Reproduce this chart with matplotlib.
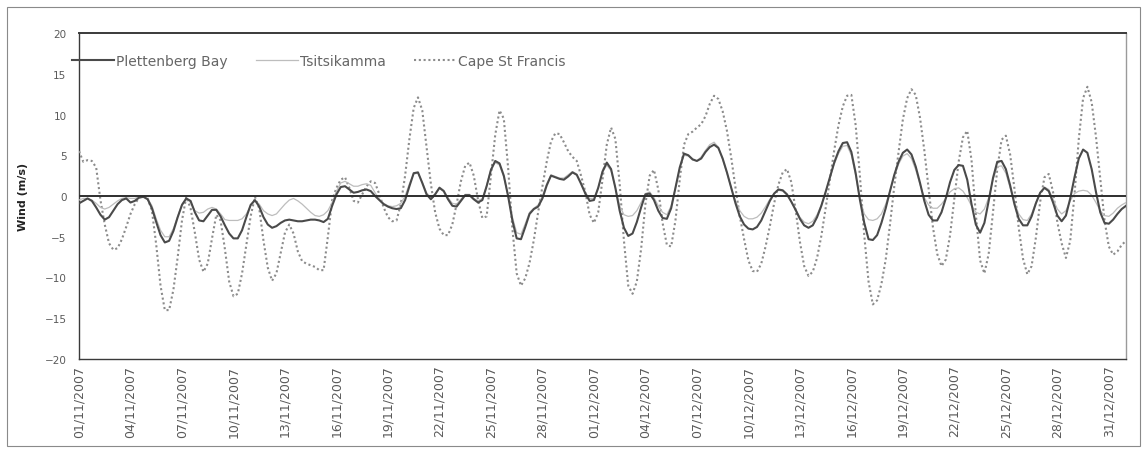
import numpy as np
import matplotlib
matplotlib.use("Agg")
import matplotlib.pyplot as plt
import matplotlib.dates as mdates
from matplotlib.patches import Rectangle

# Six-hourly wind component (m/s), 01/11/2007 00:00 to 01/01/2008 00:00
start = np.datetime64("2007-11-01T00:00")
step_hours = 6

plettenberg_bay = [
    -0.9, -0.6, -0.3, -0.6, -1.4, -2.3, -2.9, -2.6, -1.8, -1.0, -0.5, -0.3,
    -0.8, -0.6, -0.2, -0.1, -0.4, -1.5, -3.2, -4.8, -5.7, -5.5, -4.3, -2.6,
    -1.1, -0.3, -0.6, -2.0, -3.0, -3.1, -2.4, -1.7, -1.7, -2.5, -3.6, -4.6,
    -5.2, -5.2, -4.2, -2.6, -1.1, -0.5, -1.3, -2.6, -3.5, -3.9, -3.7, -3.3,
    -3.0, -2.9, -3.0, -3.1, -3.1, -3.0, -2.9, -2.9, -3.0, -3.2, -2.8, -1.2,
    0.2, 1.1, 1.2, 0.8, 0.4, 0.5, 0.7, 0.8, 0.6, 0.0, -0.5, -1.0,
    -1.3, -1.5, -1.6, -1.5, -0.5, 1.2, 2.8, 2.9, 1.6, 0.2, -0.4, 0.2,
    1.0, 0.6, -0.4, -1.2, -1.3, -0.6, 0.1, 0.1, -0.4, -0.8, -0.5, 1.2,
    3.2, 4.3, 4.0, 2.5, 0.0, -3.0, -5.2, -5.3, -3.8, -2.2, -1.6, -1.3,
    -0.3, 1.3, 2.5, 2.3, 2.1, 2.0, 2.4, 2.9, 2.6, 1.5, 0.3, -0.6,
    -0.5, 1.0, 3.0, 4.1, 3.3, 1.0, -1.8, -3.9, -4.9, -4.6, -3.2, -1.4,
    0.2, 0.3, -0.5, -1.8, -2.7, -2.8, -1.5, 1.0, 3.5, 5.2, 5.0, 4.5,
    4.3, 4.6, 5.4, 6.0, 6.3, 5.9, 4.6, 2.9, 1.0, -0.9, -2.5, -3.5,
    -4.0, -4.1, -3.8, -3.0, -1.8, -0.6, 0.3, 0.8, 0.7, 0.2, -0.7, -1.7,
    -2.8, -3.6, -3.9, -3.6, -2.6, -1.2, 0.5, 2.3, 4.1, 5.5, 6.5, 6.6,
    5.4, 2.8, -0.5, -3.3, -5.3, -5.4, -4.8, -3.3, -1.5, 0.6, 2.6, 4.2,
    5.3, 5.7, 5.1, 3.6, 1.6, -0.6, -2.3, -3.0, -3.0, -2.0, -0.3, 1.7,
    3.2, 3.8, 3.7, 2.0, -1.0, -3.5, -4.5, -3.3, -0.6, 2.2, 4.2, 4.3,
    3.3, 1.3, -1.0, -2.8, -3.6, -3.6, -2.5, -0.9, 0.4, 1.0, 0.6, -0.8,
    -2.4, -3.1, -2.4, -0.3, 2.3, 4.6, 5.7, 5.3, 3.3, 0.5, -2.0, -3.3,
    -3.4, -2.9, -2.2, -1.6, -1.2,
]

tsitsikamma = [
    -0.5, -0.3, -0.3, -0.5, -0.9, -1.4, -1.6, -1.4, -1.0, -0.6, -0.3, -0.2,
    -0.3, -0.3, -0.1, -0.1, -0.3, -1.2, -2.8, -4.2, -5.0, -5.0, -4.0, -2.5,
    -1.0, -0.3, -0.8, -1.8, -2.1, -2.0, -1.6, -1.4, -1.6, -2.2, -2.9, -3.0,
    -3.0, -3.0, -2.8, -2.2, -1.2, -0.6, -1.0, -1.8, -2.2, -2.4, -2.2, -1.6,
    -1.0, -0.5, -0.3, -0.6, -1.0, -1.5, -2.0, -2.4, -2.5, -2.3, -1.8, -0.8,
    0.6, 1.6, 1.8, 1.5, 1.2, 1.2, 1.4, 1.5, 1.3, 0.4, -0.4, -0.9,
    -1.2, -1.3, -1.2, -0.9, 0.0, 1.5, 2.7, 2.8, 1.7, 0.4, -0.2, 0.3,
    1.1, 0.7, -0.2, -0.9, -1.0, -0.4, 0.2, 0.2, -0.3, -0.6, -0.3, 1.3,
    3.3, 4.1, 3.8, 2.3, 0.0, -2.6, -4.5, -4.7, -3.4, -2.0, -1.5, -1.1,
    0.0, 1.5, 2.6, 2.4, 2.2, 2.2, 2.6, 3.0, 2.7, 1.6, 0.4, -0.3,
    -0.3, 1.0, 2.9, 3.8, 3.1, 1.0, -1.2, -2.3, -2.5, -2.4, -1.8, -0.8,
    0.3, 0.5, -0.2, -1.2, -2.0, -2.3, -1.2, 1.0, 3.4, 5.0, 4.9, 4.4,
    4.3, 4.8, 5.6, 6.3, 6.6, 6.0, 4.5, 2.8, 1.0, -0.6, -1.8, -2.5,
    -2.8, -2.8, -2.6, -2.1, -1.3, -0.4, 0.3, 0.7, 0.6, 0.1, -0.7, -1.6,
    -2.6, -3.2, -3.4, -3.1, -2.3, -1.1, 0.5, 2.2, 3.9, 5.2, 6.1, 6.2,
    5.0, 2.5, -0.4, -2.2, -2.9, -3.0, -2.8, -2.2, -1.0, 0.6, 2.4, 3.9,
    4.9, 5.2, 4.6, 3.2, 1.4, -0.2, -1.1, -1.5, -1.5, -1.0, -0.3, 0.5,
    0.9, 1.0, 0.6, -0.2, -1.2, -2.0, -2.2, -1.6, -0.2, 2.0, 3.6, 3.7,
    2.8, 1.0, -0.8, -2.2, -2.9, -3.0, -2.2, -0.8, 0.4, 1.1, 0.8, -0.4,
    -1.6, -2.2, -1.8, -0.6, 0.3, 0.6, 0.7, 0.6, 0.1, -0.8, -1.8, -2.4,
    -2.5, -2.1, -1.5, -1.1, -0.8,
]

cape_st_francis = [
    5.5, 4.2, 4.4, 4.3, 3.5, -0.5, -3.5, -5.8, -6.6, -6.4, -5.3, -3.8,
    -2.2, -1.0, -0.2, 0.0, -0.3, -1.8, -6.0, -11.0, -14.0, -14.0, -11.5, -7.5,
    -3.0, -0.1, -1.5, -4.5, -7.8, -9.3, -8.3, -5.2, -2.3, -3.0, -6.5, -10.5,
    -12.3, -12.0, -9.5, -6.0, -2.5, -0.1, -1.5, -5.5, -8.8, -10.4, -9.5, -7.0,
    -4.5, -3.5, -4.6, -6.8, -8.0, -8.3, -8.5, -8.7, -9.1, -9.1, -5.0, -0.5,
    1.0, 2.0, 2.3, 1.0, -0.6, -0.8, 0.2, 1.2, 1.8, 1.6, 0.2, -1.4,
    -2.6, -3.1, -3.0, -1.0, 2.5, 7.0, 10.8, 12.1, 10.5, 6.0, 1.5, -2.0,
    -4.0, -4.8, -4.8, -3.5, -1.0, 1.8, 3.7, 4.1, 2.5, -0.5, -2.7, -2.5,
    2.5, 7.5, 10.5, 9.5, 3.5, -4.0, -9.5, -11.0, -10.1, -8.2, -5.4, -2.0,
    1.2, 4.2, 6.7, 7.7, 7.6, 6.6, 5.5, 4.8, 4.3, 2.5, 0.5, -2.3,
    -3.3, -2.0, 2.0, 6.3, 8.4, 7.0, 1.5, -5.5, -11.0, -12.0, -10.5, -6.5,
    -1.0, 2.5, 3.2, 0.8, -3.3, -6.0, -6.2, -3.0, 2.0, 6.3, 7.6, 7.9,
    8.4, 8.8, 9.8, 11.3, 12.3, 11.9, 10.4, 8.0, 4.7, 1.0, -2.5, -5.3,
    -7.9, -9.2, -9.3, -8.3, -6.2, -3.7, -0.9, 1.4, 2.9, 3.3, 1.7, -1.7,
    -5.6, -8.6, -9.8, -9.3, -7.6, -4.9, -1.5, 2.0, 5.6, 8.7, 11.0, 12.3,
    12.4, 8.7, 2.4, -4.8, -10.5, -13.3, -12.8, -10.8, -7.8, -3.5, 1.2, 5.4,
    9.4, 12.0, 13.1, 12.4, 9.6, 5.6, 0.9, -3.8, -7.1, -8.6, -7.8, -4.8,
    -0.3, 4.2, 7.2, 8.0, 4.4, -2.2, -7.9, -9.5, -7.1, -2.0, 3.3, 6.9,
    7.4, 5.1, 0.9, -3.9, -7.7, -9.6, -8.6, -5.1, -0.7, 2.3, 2.7, 0.5,
    -3.2, -5.8, -7.6, -5.5, 0.2, 7.0, 12.0, 13.4, 11.5, 7.3, 2.1, -3.0,
    -6.2, -7.2, -6.8, -6.0, -5.5,
]

series_names = ["Plettenberg Bay", "Tsitsikamma", "Cape St Francis"]
y_ticks = [-20, -15, -10, -5, 0, 5, 10, 15, 20]
tick_start = np.datetime64("2007-11-01")
tick_end = np.datetime64("2007-12-31")
tick_every_days = 3

times = start + np.arange(len(plettenberg_bay)) * np.timedelta64(step_hours, "h")
times = times.astype("datetime64[m]").astype(object)

W, H = 1144, 452
fig = plt.figure(figsize=(W / 100, H / 100), dpi=100)
ax = fig.add_axes([79 / W, 1 - 360 / H, (1126 - 79) / W, (360 - 34) / H])

ax.plot(times, cape_st_francis, color="#8c8c8c", lw=1.5,
        linestyle=(0, (1, 1.3)), label=series_names[2], zorder=3)
ax.plot(times, tsitsikamma, color="#bdbdbd", lw=0.9,
        label=series_names[1], zorder=4)
ax.plot(times, plettenberg_bay, color="#4a4a4a", lw=1.5,
        label=series_names[0], zorder=5)
ax.axhline(0, color="#2e2e2e", lw=1.4, zorder=6)

ax.set_ylim(-20, 20)
ax.set_yticks(y_ticks)
ax.set_xlim(np.datetime64("2007-11-01T00:00").astype(object),
            np.datetime64("2008-01-01T00:00").astype(object))
tick_days = np.arange(tick_start, tick_end + np.timedelta64(1, "D"),
                      np.timedelta64(tick_every_days, "D"))
ax.set_xticks(tick_days.astype(object))
ax.xaxis.set_major_formatter(mdates.DateFormatter("%d/%m/%Y"))

ax.tick_params(axis="y", length=0, pad=9, labelsize=7.5, labelcolor="#5a5a5a")
ax.tick_params(axis="x", length=0, pad=4, labelsize=9, labelcolor="#5a5a5a",
               labelrotation=90)
for lab in ax.get_xticklabels():
    lab.set_verticalalignment("top")

ax.set_ylabel("Wind (m/s)", fontsize=8, fontweight="bold", color="#222222",
              labelpad=12)

for side, sp in ax.spines.items():
    sp.set_color("#3a3a3a")
    sp.set_linewidth(1.0)
ax.spines["top"].set_linewidth(1.4)
ax.spines["right"].set_color("#9a9a9a")

handles, labels = ax.get_legend_handles_labels()
order = [2, 1, 0]
leg = ax.legend([handles[i] for i in order], [labels[i] for i in order],
                loc="center left", bbox_to_anchor=(72 / W, 1 - 62 / H),
                bbox_transform=fig.transFigure, ncol=3, frameon=False,
                fontsize=10, handlelength=3.0, handletextpad=0.2,
                columnspacing=2.0, borderpad=0, borderaxespad=0)
for t in leg.get_texts():
    t.set_color("#666666")

fig.patches.append(Rectangle((7 / W, 1 - 447 / H), (1140 - 7) / W, (447 - 8) / H,
                             transform=fig.transFigure, fill=False,
                             edgecolor="#8a8a8a", lw=0.8))

fig.savefig("out.png", dpi=100, facecolor="white")
